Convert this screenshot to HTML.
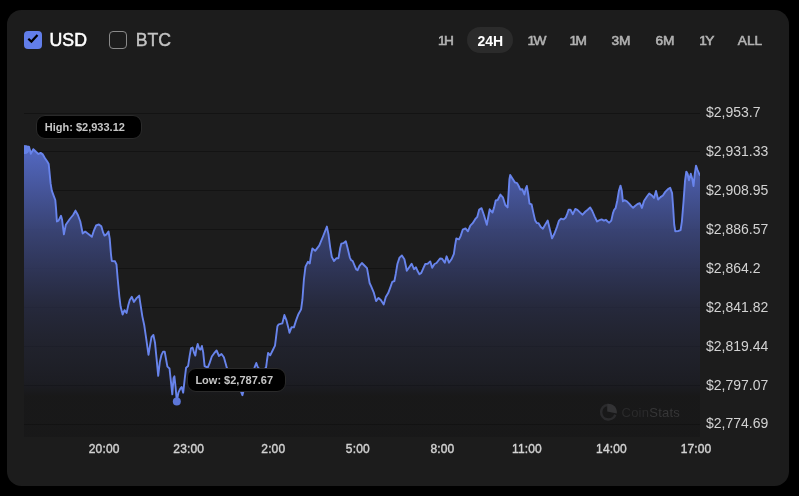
<!DOCTYPE html>
<html><head><meta charset="utf-8"><title>Chart</title>
<style>
html,body{margin:0;padding:0;background:#000;}
body{width:799px;height:496px;position:relative;overflow:hidden;font-family:"Liberation Sans",Arial,sans-serif;}
.card{position:absolute;left:7px;top:10px;width:782px;height:476px;background:#1c1c1c;border-radius:14.5px;}
svg.ch{position:absolute;left:0;top:0;}
.txt{position:absolute;left:0;top:0;width:799px;height:496px;will-change:transform;}
.cb{position:absolute;top:31px;width:18px;height:18px;border-radius:4px;box-sizing:border-box;}
.cb.on{left:24px;background:#627eea;}
.cb.off{left:109px;border:1.5px solid #8a8a8a;background:#1c1c1c;}
.lb{position:absolute;top:29px;font-size:17.7px;line-height:22px;white-space:nowrap;-webkit-text-stroke:0.55px currentColor;}
.pill{position:absolute;left:467px;top:27px;width:46px;height:26px;border-radius:13px;background:#2b2b2b;}
.rg{position:absolute;top:27.8px;width:46px;height:26px;line-height:26px;text-align:center;font-size:13.7px;color:#b2b2b2;-webkit-text-stroke:0.6px currentColor;white-space:nowrap;}
.one{letter-spacing:-1.5px;}
.rg.on{color:#fff;font-weight:bold;font-size:14px;-webkit-text-stroke:0;}
.yl{position:absolute;left:706px;font-size:14px;line-height:18px;color:#d2d2d2;white-space:nowrap;}
.xl{position:absolute;top:441px;width:60px;text-align:center;font-size:12px;line-height:16px;color:#d2d2d2;-webkit-text-stroke:0.4px currentColor;letter-spacing:0.15px;white-space:nowrap;}
.tip{position:absolute;background:#000;border:1px solid #2a2a2a;box-sizing:border-box;border-radius:9px;color:#c6c6c6;font-size:11px;font-weight:bold;text-align:left;padding-left:7.4px;height:24px;line-height:22px;white-space:nowrap;}
.wm{position:absolute;left:621.5px;top:404.7px;font-size:13px;line-height:16px;letter-spacing:0.25px;color:#2a2a2b;white-space:nowrap;}
.wm b{font-weight:normal;color:#363637;}
</style></head><body>
<div class="card"></div>
<svg class="ch" width="799" height="496" viewBox="0 0 799 496">
<defs>
<linearGradient id="g" gradientUnits="userSpaceOnUse" x1="0" y1="145" x2="0" y2="437">
<stop offset="0" stop-color="#627ef0" stop-opacity="0.8"/>
<stop offset="0.3" stop-color="#6078eb" stop-opacity="0.41"/>
<stop offset="0.55" stop-color="#5a6ee6" stop-opacity="0.16"/>
<stop offset="0.7" stop-color="#4a5cc8" stop-opacity="0.09"/>
<stop offset="0.815" stop-color="#1a2258" stop-opacity="0.11"/>
<stop offset="0.86" stop-color="#000004" stop-opacity="0.13"/>
<stop offset="1" stop-color="#000004" stop-opacity="0.13"/>
</linearGradient>
<clipPath id="ca"><path d="M24.0,146.5 L28.9,146.6 L29.9,150.0 L30.8,153.8 L33.3,149.2 L36.0,151.8 L38.4,154.0 L40.6,152.9 L42.8,154.4 L45.0,158.2 L47.4,161.8 L48.7,164.0 L49.5,172.0 L50.6,183.4 L51.8,190.6 L53.9,196.3 L55.3,200.0 L56.1,209.4 L56.9,221.5 L58.5,220.6 L61.0,215.8 L62.1,219.8 L63.9,234.4 L65.8,224.7 L69.8,219.0 L73.1,215.0 L75.5,210.6 L77.9,215.0 L80.3,221.5 L82.7,233.5 L85.2,231.6 L88.4,233.9 L91.9,236.8 L94.0,230.3 L96.1,225.5 L98.9,224.4 L101.3,226.3 L103.2,232.7 L104.5,235.6 L106.5,234.4 L108.5,231.5 L109.7,238.4 L111.0,254.5 L111.8,261.0 L115.0,261.3 L116.5,264.5 L117.7,279.0 L119.4,296.8 L120.6,306.5 L122.6,314.5 L124.5,310.2 L126.6,312.9 L128.2,305.6 L129.8,300.0 L131.8,296.8 L133.9,301.9 L136.8,297.9 L139.2,295.6 L140.3,303.2 L142.3,316.1 L144.2,325.0 L146.1,337.9 L148.5,354.8 L150.2,344.4 L151.5,337.1 L153.4,335.0 L155.0,342.7 L156.6,358.9 L158.2,375.8 L159.8,362.1 L161.5,354.8 L163.1,351.6 L164.7,351.6 L166.3,360.5 L167.4,366.6 L169.5,368.5 L171.1,383.1 L172.3,394.4 L173.5,378.2 L174.4,376.3 L175.5,386.3 L176.8,401.0 L178.4,392.7 L180.3,388.7 L181.6,387.1 L183.2,392.7 L184.8,378.2 L186.1,367.7 L188.1,366.1 L189.7,355.6 L191.0,348.4 L192.6,347.6 L194.2,353.2 L195.3,355.6 L196.5,348.4 L197.7,344.0 L199.4,349.2 L200.5,349.6 L201.9,346.0 L203.2,352.4 L204.6,366.1 L207.7,367.7 L209.4,363.7 L211.8,356.5 L214.2,353.2 L216.6,350.5 L219.0,356.0 L221.5,354.0 L223.9,357.3 L225.5,362.9 L226.8,367.7 L232.0,380.0 L238.0,384.0 L242.4,395.2 L246.0,382.0 L250.0,378.0 L254.5,367.7 L256.3,363.0 L257.7,367.0 L262.0,372.0 L266.1,367.4 L266.9,361.0 L268.1,352.9 L270.2,355.3 L272.6,350.5 L275.0,345.6 L276.1,336.8 L277.4,326.3 L278.7,324.4 L282.3,323.4 L284.4,315.0 L286.3,319.8 L288.4,327.9 L289.5,332.7 L291.6,327.1 L293.9,327.4 L296.0,320.6 L298.4,314.2 L301.1,309.4 L302.4,299.7 L303.9,279.5 L305.5,266.6 L307.9,261.8 L309.8,263.4 L311.1,254.5 L312.4,248.5 L315.2,250.8 L319.2,245.6 L323.2,236.0 L326.9,226.6 L328.5,234.4 L330.2,247.3 L331.8,256.9 L334.0,261.0 L336.5,258.2 L338.5,258.2 L340.2,248.0 L341.3,243.7 L343.4,243.2 L345.8,241.3 L347.4,247.3 L349.8,257.3 L351.1,260.2 L352.7,261.0 L354.7,265.8 L356.3,269.5 L357.6,270.2 L359.5,265.8 L361.9,263.0 L364.4,265.5 L367.0,268.2 L368.3,275.4 L369.6,283.0 L371.3,286.6 L373.7,292.3 L376.1,301.1 L378.5,297.9 L381.0,300.3 L383.7,304.4 L385.8,297.1 L388.2,293.1 L390.6,286.6 L392.3,281.8 L394.4,281.0 L395.8,273.7 L397.4,264.0 L399.5,257.6 L401.9,255.5 L404.4,259.2 L405.6,264.8 L406.8,270.8 L409.2,267.3 L411.6,263.7 L414.0,269.2 L416.0,267.3 L417.7,271.3 L419.4,274.2 L421.3,272.9 L423.7,267.3 L425.3,264.0 L427.7,263.7 L430.2,261.4 L432.2,267.8 L434.5,264.0 L436.5,263.0 L440.0,258.5 L442.1,258.7 L444.8,262.7 L446.6,256.3 L449.0,262.7 L451.8,258.7 L453.9,253.9 L455.0,245.8 L456.3,238.5 L459.0,239.4 L460.6,236.1 L462.7,229.7 L465.5,228.4 L467.9,231.3 L470.3,225.6 L472.7,223.2 L475.2,219.2 L477.3,216.8 L479.2,209.5 L481.6,208.2 L484.0,215.2 L486.8,224.8 L488.4,216.0 L489.7,209.3 L492.5,212.6 L494.1,207.4 L495.7,200.5 L497.7,200.0 L500.4,194.6 L502.9,197.3 L505.3,205.0 L507.6,207.4 L508.5,194.0 L509.4,179.5 L510.2,175.0 L512.6,178.7 L515.0,182.4 L517.1,183.1 L518.7,186.0 L520.3,189.5 L522.3,189.2 L524.4,194.5 L525.5,189.2 L526.8,186.0 L528.2,194.0 L529.5,203.7 L531.6,204.5 L533.5,213.4 L535.2,220.6 L536.8,223.1 L538.4,223.1 L540.8,227.1 L542.9,228.7 L545.6,223.9 L547.7,220.6 L549.7,228.7 L552.1,238.4 L554.5,233.5 L556.9,227.1 L559.0,220.6 L561.0,218.7 L563.4,219.4 L565.8,217.4 L567.4,213.4 L568.6,209.7 L570.5,209.7 L572.9,214.2 L575.3,209.0 L577.4,209.8 L580.2,212.6 L582.6,214.7 L585.5,211.5 L587.7,209.8 L590.2,207.4 L592.3,211.0 L594.7,216.6 L597.1,221.5 L599.5,220.2 L601.6,219.4 L603.9,220.6 L606.0,219.8 L607.6,221.5 L609.2,222.7 L611.3,220.6 L612.9,213.4 L614.0,210.2 L615.6,208.2 L617.3,200.5 L618.9,190.8 L620.5,185.6 L621.8,190.8 L622.9,201.3 L624.5,200.2 L626.9,201.3 L629.4,203.8 L631.3,206.1 L633.1,207.8 L635.3,205.8 L637.6,204.0 L639.8,203.2 L641.9,207.9 L644.0,201.1 L646.8,196.8 L649.2,193.5 L651.6,195.2 L654.0,197.9 L656.0,191.0 L658.1,199.5 L660.5,197.1 L662.9,195.5 L665.3,191.9 L667.7,189.4 L670.2,187.7 L672.1,193.1 L673.1,206.8 L674.2,224.5 L675.3,231.3 L678.2,231.0 L680.6,230.2 L681.9,221.3 L683.5,201.9 L685.0,181.0 L686.3,171.6 L687.6,173.7 L689.0,180.2 L690.8,173.7 L692.4,179.4 L693.5,186.1 L694.7,174.5 L696.0,165.6 L697.6,170.0 L699.5,174.5 L700.0,175.0 L700,437 L24,437 Z"/></clipPath>
<clipPath id="cc"><rect x="24" y="100" width="676" height="340"/></clipPath>
</defs>
<g fill="#131313"><rect x="24" y="113" width="676" height="1"/><rect x="24" y="151" width="676" height="1"/><rect x="24" y="190" width="676" height="1"/><rect x="24" y="229" width="676" height="1"/><rect x="24" y="268" width="676" height="1"/><rect x="24" y="307" width="676" height="1"/><rect x="24" y="346" width="676" height="1"/><rect x="24" y="385" width="676" height="1"/><rect x="24" y="424" width="676" height="1"/></g>
<path d="M24.0,146.5 L28.9,146.6 L29.9,150.0 L30.8,153.8 L33.3,149.2 L36.0,151.8 L38.4,154.0 L40.6,152.9 L42.8,154.4 L45.0,158.2 L47.4,161.8 L48.7,164.0 L49.5,172.0 L50.6,183.4 L51.8,190.6 L53.9,196.3 L55.3,200.0 L56.1,209.4 L56.9,221.5 L58.5,220.6 L61.0,215.8 L62.1,219.8 L63.9,234.4 L65.8,224.7 L69.8,219.0 L73.1,215.0 L75.5,210.6 L77.9,215.0 L80.3,221.5 L82.7,233.5 L85.2,231.6 L88.4,233.9 L91.9,236.8 L94.0,230.3 L96.1,225.5 L98.9,224.4 L101.3,226.3 L103.2,232.7 L104.5,235.6 L106.5,234.4 L108.5,231.5 L109.7,238.4 L111.0,254.5 L111.8,261.0 L115.0,261.3 L116.5,264.5 L117.7,279.0 L119.4,296.8 L120.6,306.5 L122.6,314.5 L124.5,310.2 L126.6,312.9 L128.2,305.6 L129.8,300.0 L131.8,296.8 L133.9,301.9 L136.8,297.9 L139.2,295.6 L140.3,303.2 L142.3,316.1 L144.2,325.0 L146.1,337.9 L148.5,354.8 L150.2,344.4 L151.5,337.1 L153.4,335.0 L155.0,342.7 L156.6,358.9 L158.2,375.8 L159.8,362.1 L161.5,354.8 L163.1,351.6 L164.7,351.6 L166.3,360.5 L167.4,366.6 L169.5,368.5 L171.1,383.1 L172.3,394.4 L173.5,378.2 L174.4,376.3 L175.5,386.3 L176.8,401.0 L178.4,392.7 L180.3,388.7 L181.6,387.1 L183.2,392.7 L184.8,378.2 L186.1,367.7 L188.1,366.1 L189.7,355.6 L191.0,348.4 L192.6,347.6 L194.2,353.2 L195.3,355.6 L196.5,348.4 L197.7,344.0 L199.4,349.2 L200.5,349.6 L201.9,346.0 L203.2,352.4 L204.6,366.1 L207.7,367.7 L209.4,363.7 L211.8,356.5 L214.2,353.2 L216.6,350.5 L219.0,356.0 L221.5,354.0 L223.9,357.3 L225.5,362.9 L226.8,367.7 L232.0,380.0 L238.0,384.0 L242.4,395.2 L246.0,382.0 L250.0,378.0 L254.5,367.7 L256.3,363.0 L257.7,367.0 L262.0,372.0 L266.1,367.4 L266.9,361.0 L268.1,352.9 L270.2,355.3 L272.6,350.5 L275.0,345.6 L276.1,336.8 L277.4,326.3 L278.7,324.4 L282.3,323.4 L284.4,315.0 L286.3,319.8 L288.4,327.9 L289.5,332.7 L291.6,327.1 L293.9,327.4 L296.0,320.6 L298.4,314.2 L301.1,309.4 L302.4,299.7 L303.9,279.5 L305.5,266.6 L307.9,261.8 L309.8,263.4 L311.1,254.5 L312.4,248.5 L315.2,250.8 L319.2,245.6 L323.2,236.0 L326.9,226.6 L328.5,234.4 L330.2,247.3 L331.8,256.9 L334.0,261.0 L336.5,258.2 L338.5,258.2 L340.2,248.0 L341.3,243.7 L343.4,243.2 L345.8,241.3 L347.4,247.3 L349.8,257.3 L351.1,260.2 L352.7,261.0 L354.7,265.8 L356.3,269.5 L357.6,270.2 L359.5,265.8 L361.9,263.0 L364.4,265.5 L367.0,268.2 L368.3,275.4 L369.6,283.0 L371.3,286.6 L373.7,292.3 L376.1,301.1 L378.5,297.9 L381.0,300.3 L383.7,304.4 L385.8,297.1 L388.2,293.1 L390.6,286.6 L392.3,281.8 L394.4,281.0 L395.8,273.7 L397.4,264.0 L399.5,257.6 L401.9,255.5 L404.4,259.2 L405.6,264.8 L406.8,270.8 L409.2,267.3 L411.6,263.7 L414.0,269.2 L416.0,267.3 L417.7,271.3 L419.4,274.2 L421.3,272.9 L423.7,267.3 L425.3,264.0 L427.7,263.7 L430.2,261.4 L432.2,267.8 L434.5,264.0 L436.5,263.0 L440.0,258.5 L442.1,258.7 L444.8,262.7 L446.6,256.3 L449.0,262.7 L451.8,258.7 L453.9,253.9 L455.0,245.8 L456.3,238.5 L459.0,239.4 L460.6,236.1 L462.7,229.7 L465.5,228.4 L467.9,231.3 L470.3,225.6 L472.7,223.2 L475.2,219.2 L477.3,216.8 L479.2,209.5 L481.6,208.2 L484.0,215.2 L486.8,224.8 L488.4,216.0 L489.7,209.3 L492.5,212.6 L494.1,207.4 L495.7,200.5 L497.7,200.0 L500.4,194.6 L502.9,197.3 L505.3,205.0 L507.6,207.4 L508.5,194.0 L509.4,179.5 L510.2,175.0 L512.6,178.7 L515.0,182.4 L517.1,183.1 L518.7,186.0 L520.3,189.5 L522.3,189.2 L524.4,194.5 L525.5,189.2 L526.8,186.0 L528.2,194.0 L529.5,203.7 L531.6,204.5 L533.5,213.4 L535.2,220.6 L536.8,223.1 L538.4,223.1 L540.8,227.1 L542.9,228.7 L545.6,223.9 L547.7,220.6 L549.7,228.7 L552.1,238.4 L554.5,233.5 L556.9,227.1 L559.0,220.6 L561.0,218.7 L563.4,219.4 L565.8,217.4 L567.4,213.4 L568.6,209.7 L570.5,209.7 L572.9,214.2 L575.3,209.0 L577.4,209.8 L580.2,212.6 L582.6,214.7 L585.5,211.5 L587.7,209.8 L590.2,207.4 L592.3,211.0 L594.7,216.6 L597.1,221.5 L599.5,220.2 L601.6,219.4 L603.9,220.6 L606.0,219.8 L607.6,221.5 L609.2,222.7 L611.3,220.6 L612.9,213.4 L614.0,210.2 L615.6,208.2 L617.3,200.5 L618.9,190.8 L620.5,185.6 L621.8,190.8 L622.9,201.3 L624.5,200.2 L626.9,201.3 L629.4,203.8 L631.3,206.1 L633.1,207.8 L635.3,205.8 L637.6,204.0 L639.8,203.2 L641.9,207.9 L644.0,201.1 L646.8,196.8 L649.2,193.5 L651.6,195.2 L654.0,197.9 L656.0,191.0 L658.1,199.5 L660.5,197.1 L662.9,195.5 L665.3,191.9 L667.7,189.4 L670.2,187.7 L672.1,193.1 L673.1,206.8 L674.2,224.5 L675.3,231.3 L678.2,231.0 L680.6,230.2 L681.9,221.3 L683.5,201.9 L685.0,181.0 L686.3,171.6 L687.6,173.7 L689.0,180.2 L690.8,173.7 L692.4,179.4 L693.5,186.1 L694.7,174.5 L696.0,165.6 L697.6,170.0 L699.5,174.5 L700.0,175.0 L700,437 L24,437 Z" fill="#1c1c1c"/>
<g fill="#131313" clip-path="url(#ca)"><rect x="24" y="229" width="676" height="1" opacity="0.15"/><rect x="24" y="268" width="676" height="1" opacity="0.2"/><rect x="24" y="307" width="676" height="1" opacity="0.3"/><rect x="24" y="346" width="676" height="1" opacity="0.45"/><rect x="24" y="385" width="676" height="1" opacity="0.55"/><rect x="24" y="424" width="676" height="1" opacity="0.7"/></g>
<path d="M24.0,146.5 L28.9,146.6 L29.9,150.0 L30.8,153.8 L33.3,149.2 L36.0,151.8 L38.4,154.0 L40.6,152.9 L42.8,154.4 L45.0,158.2 L47.4,161.8 L48.7,164.0 L49.5,172.0 L50.6,183.4 L51.8,190.6 L53.9,196.3 L55.3,200.0 L56.1,209.4 L56.9,221.5 L58.5,220.6 L61.0,215.8 L62.1,219.8 L63.9,234.4 L65.8,224.7 L69.8,219.0 L73.1,215.0 L75.5,210.6 L77.9,215.0 L80.3,221.5 L82.7,233.5 L85.2,231.6 L88.4,233.9 L91.9,236.8 L94.0,230.3 L96.1,225.5 L98.9,224.4 L101.3,226.3 L103.2,232.7 L104.5,235.6 L106.5,234.4 L108.5,231.5 L109.7,238.4 L111.0,254.5 L111.8,261.0 L115.0,261.3 L116.5,264.5 L117.7,279.0 L119.4,296.8 L120.6,306.5 L122.6,314.5 L124.5,310.2 L126.6,312.9 L128.2,305.6 L129.8,300.0 L131.8,296.8 L133.9,301.9 L136.8,297.9 L139.2,295.6 L140.3,303.2 L142.3,316.1 L144.2,325.0 L146.1,337.9 L148.5,354.8 L150.2,344.4 L151.5,337.1 L153.4,335.0 L155.0,342.7 L156.6,358.9 L158.2,375.8 L159.8,362.1 L161.5,354.8 L163.1,351.6 L164.7,351.6 L166.3,360.5 L167.4,366.6 L169.5,368.5 L171.1,383.1 L172.3,394.4 L173.5,378.2 L174.4,376.3 L175.5,386.3 L176.8,401.0 L178.4,392.7 L180.3,388.7 L181.6,387.1 L183.2,392.7 L184.8,378.2 L186.1,367.7 L188.1,366.1 L189.7,355.6 L191.0,348.4 L192.6,347.6 L194.2,353.2 L195.3,355.6 L196.5,348.4 L197.7,344.0 L199.4,349.2 L200.5,349.6 L201.9,346.0 L203.2,352.4 L204.6,366.1 L207.7,367.7 L209.4,363.7 L211.8,356.5 L214.2,353.2 L216.6,350.5 L219.0,356.0 L221.5,354.0 L223.9,357.3 L225.5,362.9 L226.8,367.7 L232.0,380.0 L238.0,384.0 L242.4,395.2 L246.0,382.0 L250.0,378.0 L254.5,367.7 L256.3,363.0 L257.7,367.0 L262.0,372.0 L266.1,367.4 L266.9,361.0 L268.1,352.9 L270.2,355.3 L272.6,350.5 L275.0,345.6 L276.1,336.8 L277.4,326.3 L278.7,324.4 L282.3,323.4 L284.4,315.0 L286.3,319.8 L288.4,327.9 L289.5,332.7 L291.6,327.1 L293.9,327.4 L296.0,320.6 L298.4,314.2 L301.1,309.4 L302.4,299.7 L303.9,279.5 L305.5,266.6 L307.9,261.8 L309.8,263.4 L311.1,254.5 L312.4,248.5 L315.2,250.8 L319.2,245.6 L323.2,236.0 L326.9,226.6 L328.5,234.4 L330.2,247.3 L331.8,256.9 L334.0,261.0 L336.5,258.2 L338.5,258.2 L340.2,248.0 L341.3,243.7 L343.4,243.2 L345.8,241.3 L347.4,247.3 L349.8,257.3 L351.1,260.2 L352.7,261.0 L354.7,265.8 L356.3,269.5 L357.6,270.2 L359.5,265.8 L361.9,263.0 L364.4,265.5 L367.0,268.2 L368.3,275.4 L369.6,283.0 L371.3,286.6 L373.7,292.3 L376.1,301.1 L378.5,297.9 L381.0,300.3 L383.7,304.4 L385.8,297.1 L388.2,293.1 L390.6,286.6 L392.3,281.8 L394.4,281.0 L395.8,273.7 L397.4,264.0 L399.5,257.6 L401.9,255.5 L404.4,259.2 L405.6,264.8 L406.8,270.8 L409.2,267.3 L411.6,263.7 L414.0,269.2 L416.0,267.3 L417.7,271.3 L419.4,274.2 L421.3,272.9 L423.7,267.3 L425.3,264.0 L427.7,263.7 L430.2,261.4 L432.2,267.8 L434.5,264.0 L436.5,263.0 L440.0,258.5 L442.1,258.7 L444.8,262.7 L446.6,256.3 L449.0,262.7 L451.8,258.7 L453.9,253.9 L455.0,245.8 L456.3,238.5 L459.0,239.4 L460.6,236.1 L462.7,229.7 L465.5,228.4 L467.9,231.3 L470.3,225.6 L472.7,223.2 L475.2,219.2 L477.3,216.8 L479.2,209.5 L481.6,208.2 L484.0,215.2 L486.8,224.8 L488.4,216.0 L489.7,209.3 L492.5,212.6 L494.1,207.4 L495.7,200.5 L497.7,200.0 L500.4,194.6 L502.9,197.3 L505.3,205.0 L507.6,207.4 L508.5,194.0 L509.4,179.5 L510.2,175.0 L512.6,178.7 L515.0,182.4 L517.1,183.1 L518.7,186.0 L520.3,189.5 L522.3,189.2 L524.4,194.5 L525.5,189.2 L526.8,186.0 L528.2,194.0 L529.5,203.7 L531.6,204.5 L533.5,213.4 L535.2,220.6 L536.8,223.1 L538.4,223.1 L540.8,227.1 L542.9,228.7 L545.6,223.9 L547.7,220.6 L549.7,228.7 L552.1,238.4 L554.5,233.5 L556.9,227.1 L559.0,220.6 L561.0,218.7 L563.4,219.4 L565.8,217.4 L567.4,213.4 L568.6,209.7 L570.5,209.7 L572.9,214.2 L575.3,209.0 L577.4,209.8 L580.2,212.6 L582.6,214.7 L585.5,211.5 L587.7,209.8 L590.2,207.4 L592.3,211.0 L594.7,216.6 L597.1,221.5 L599.5,220.2 L601.6,219.4 L603.9,220.6 L606.0,219.8 L607.6,221.5 L609.2,222.7 L611.3,220.6 L612.9,213.4 L614.0,210.2 L615.6,208.2 L617.3,200.5 L618.9,190.8 L620.5,185.6 L621.8,190.8 L622.9,201.3 L624.5,200.2 L626.9,201.3 L629.4,203.8 L631.3,206.1 L633.1,207.8 L635.3,205.8 L637.6,204.0 L639.8,203.2 L641.9,207.9 L644.0,201.1 L646.8,196.8 L649.2,193.5 L651.6,195.2 L654.0,197.9 L656.0,191.0 L658.1,199.5 L660.5,197.1 L662.9,195.5 L665.3,191.9 L667.7,189.4 L670.2,187.7 L672.1,193.1 L673.1,206.8 L674.2,224.5 L675.3,231.3 L678.2,231.0 L680.6,230.2 L681.9,221.3 L683.5,201.9 L685.0,181.0 L686.3,171.6 L687.6,173.7 L689.0,180.2 L690.8,173.7 L692.4,179.4 L693.5,186.1 L694.7,174.5 L696.0,165.6 L697.6,170.0 L699.5,174.5 L700.0,175.0 L700,437 L24,437 Z" fill="url(#g)"/>
<g clip-path="url(#cc)"><path d="M24.0,146.5 L28.9,146.6 L29.9,150.0 L30.8,153.8 L33.3,149.2 L36.0,151.8 L38.4,154.0 L40.6,152.9 L42.8,154.4 L45.0,158.2 L47.4,161.8 L48.7,164.0 L49.5,172.0 L50.6,183.4 L51.8,190.6 L53.9,196.3 L55.3,200.0 L56.1,209.4 L56.9,221.5 L58.5,220.6 L61.0,215.8 L62.1,219.8 L63.9,234.4 L65.8,224.7 L69.8,219.0 L73.1,215.0 L75.5,210.6 L77.9,215.0 L80.3,221.5 L82.7,233.5 L85.2,231.6 L88.4,233.9 L91.9,236.8 L94.0,230.3 L96.1,225.5 L98.9,224.4 L101.3,226.3 L103.2,232.7 L104.5,235.6 L106.5,234.4 L108.5,231.5 L109.7,238.4 L111.0,254.5 L111.8,261.0 L115.0,261.3 L116.5,264.5 L117.7,279.0 L119.4,296.8 L120.6,306.5 L122.6,314.5 L124.5,310.2 L126.6,312.9 L128.2,305.6 L129.8,300.0 L131.8,296.8 L133.9,301.9 L136.8,297.9 L139.2,295.6 L140.3,303.2 L142.3,316.1 L144.2,325.0 L146.1,337.9 L148.5,354.8 L150.2,344.4 L151.5,337.1 L153.4,335.0 L155.0,342.7 L156.6,358.9 L158.2,375.8 L159.8,362.1 L161.5,354.8 L163.1,351.6 L164.7,351.6 L166.3,360.5 L167.4,366.6 L169.5,368.5 L171.1,383.1 L172.3,394.4 L173.5,378.2 L174.4,376.3 L175.5,386.3 L176.8,401.0 L178.4,392.7 L180.3,388.7 L181.6,387.1 L183.2,392.7 L184.8,378.2 L186.1,367.7 L188.1,366.1 L189.7,355.6 L191.0,348.4 L192.6,347.6 L194.2,353.2 L195.3,355.6 L196.5,348.4 L197.7,344.0 L199.4,349.2 L200.5,349.6 L201.9,346.0 L203.2,352.4 L204.6,366.1 L207.7,367.7 L209.4,363.7 L211.8,356.5 L214.2,353.2 L216.6,350.5 L219.0,356.0 L221.5,354.0 L223.9,357.3 L225.5,362.9 L226.8,367.7 L232.0,380.0 L238.0,384.0 L242.4,395.2 L246.0,382.0 L250.0,378.0 L254.5,367.7 L256.3,363.0 L257.7,367.0 L262.0,372.0 L266.1,367.4 L266.9,361.0 L268.1,352.9 L270.2,355.3 L272.6,350.5 L275.0,345.6 L276.1,336.8 L277.4,326.3 L278.7,324.4 L282.3,323.4 L284.4,315.0 L286.3,319.8 L288.4,327.9 L289.5,332.7 L291.6,327.1 L293.9,327.4 L296.0,320.6 L298.4,314.2 L301.1,309.4 L302.4,299.7 L303.9,279.5 L305.5,266.6 L307.9,261.8 L309.8,263.4 L311.1,254.5 L312.4,248.5 L315.2,250.8 L319.2,245.6 L323.2,236.0 L326.9,226.6 L328.5,234.4 L330.2,247.3 L331.8,256.9 L334.0,261.0 L336.5,258.2 L338.5,258.2 L340.2,248.0 L341.3,243.7 L343.4,243.2 L345.8,241.3 L347.4,247.3 L349.8,257.3 L351.1,260.2 L352.7,261.0 L354.7,265.8 L356.3,269.5 L357.6,270.2 L359.5,265.8 L361.9,263.0 L364.4,265.5 L367.0,268.2 L368.3,275.4 L369.6,283.0 L371.3,286.6 L373.7,292.3 L376.1,301.1 L378.5,297.9 L381.0,300.3 L383.7,304.4 L385.8,297.1 L388.2,293.1 L390.6,286.6 L392.3,281.8 L394.4,281.0 L395.8,273.7 L397.4,264.0 L399.5,257.6 L401.9,255.5 L404.4,259.2 L405.6,264.8 L406.8,270.8 L409.2,267.3 L411.6,263.7 L414.0,269.2 L416.0,267.3 L417.7,271.3 L419.4,274.2 L421.3,272.9 L423.7,267.3 L425.3,264.0 L427.7,263.7 L430.2,261.4 L432.2,267.8 L434.5,264.0 L436.5,263.0 L440.0,258.5 L442.1,258.7 L444.8,262.7 L446.6,256.3 L449.0,262.7 L451.8,258.7 L453.9,253.9 L455.0,245.8 L456.3,238.5 L459.0,239.4 L460.6,236.1 L462.7,229.7 L465.5,228.4 L467.9,231.3 L470.3,225.6 L472.7,223.2 L475.2,219.2 L477.3,216.8 L479.2,209.5 L481.6,208.2 L484.0,215.2 L486.8,224.8 L488.4,216.0 L489.7,209.3 L492.5,212.6 L494.1,207.4 L495.7,200.5 L497.7,200.0 L500.4,194.6 L502.9,197.3 L505.3,205.0 L507.6,207.4 L508.5,194.0 L509.4,179.5 L510.2,175.0 L512.6,178.7 L515.0,182.4 L517.1,183.1 L518.7,186.0 L520.3,189.5 L522.3,189.2 L524.4,194.5 L525.5,189.2 L526.8,186.0 L528.2,194.0 L529.5,203.7 L531.6,204.5 L533.5,213.4 L535.2,220.6 L536.8,223.1 L538.4,223.1 L540.8,227.1 L542.9,228.7 L545.6,223.9 L547.7,220.6 L549.7,228.7 L552.1,238.4 L554.5,233.5 L556.9,227.1 L559.0,220.6 L561.0,218.7 L563.4,219.4 L565.8,217.4 L567.4,213.4 L568.6,209.7 L570.5,209.7 L572.9,214.2 L575.3,209.0 L577.4,209.8 L580.2,212.6 L582.6,214.7 L585.5,211.5 L587.7,209.8 L590.2,207.4 L592.3,211.0 L594.7,216.6 L597.1,221.5 L599.5,220.2 L601.6,219.4 L603.9,220.6 L606.0,219.8 L607.6,221.5 L609.2,222.7 L611.3,220.6 L612.9,213.4 L614.0,210.2 L615.6,208.2 L617.3,200.5 L618.9,190.8 L620.5,185.6 L621.8,190.8 L622.9,201.3 L624.5,200.2 L626.9,201.3 L629.4,203.8 L631.3,206.1 L633.1,207.8 L635.3,205.8 L637.6,204.0 L639.8,203.2 L641.9,207.9 L644.0,201.1 L646.8,196.8 L649.2,193.5 L651.6,195.2 L654.0,197.9 L656.0,191.0 L658.1,199.5 L660.5,197.1 L662.9,195.5 L665.3,191.9 L667.7,189.4 L670.2,187.7 L672.1,193.1 L673.1,206.8 L674.2,224.5 L675.3,231.3 L678.2,231.0 L680.6,230.2 L681.9,221.3 L683.5,201.9 L685.0,181.0 L686.3,171.6 L687.6,173.7 L689.0,180.2 L690.8,173.7 L692.4,179.4 L693.5,186.1 L694.7,174.5 L696.0,165.6 L697.6,170.0 L699.5,174.5 L700.0,175.0" fill="none" stroke="#6884ec" stroke-width="1.9" stroke-linejoin="round" stroke-linecap="round"/>
<circle cx="25" cy="149.6" r="4.4" fill="#6582e8"/></g>
<circle cx="176.8" cy="401.5" r="4" fill="#5c76d8"/>
<path d="M607.6,404.9 A7.3,7.3 0 1 0 615.3,414.7" fill="none" stroke="#2b2b2d" stroke-width="2.5"/>
<path d="M607.2,411.6 L607.2,403.8 A8.5,8.5 0 0 1 616.8,413.6 Z" fill="#333335"/>
</svg>
<div class="txt"><div class="cb on"><svg width="18" height="18" viewBox="0 0 18 18"><path d="M4.3,7.8 L7.4,10.6 L13.5,4.1" fill="none" stroke="#000" stroke-width="2.2"/></svg></div>
<div class="lb" style="left:49.6px;color:#fff;">USD</div>
<div class="cb off"></div>
<div class="lb" style="left:135.7px;color:#c4c4c4;-webkit-text-stroke-width:0.4px;">BTC</div>
<div class="pill"></div>
<div class="rg" style="left:423.0px"><span class="one">1</span>H</div><div class="rg on" style="left:467.3px">24H</div><div class="rg" style="left:514.0px"><span class="one">1</span>W</div><div class="rg" style="left:555.2px"><span class="one">1</span>M</div><div class="rg" style="left:598.0px">3M</div><div class="rg" style="left:642.0px">6M</div><div class="rg" style="left:683.8px"><span class="one">1</span>Y</div><div class="rg" style="left:727.0px">ALL</div>
<div class="yl" style="top:103px">$2,953.7</div><div class="yl" style="top:142px">$2,931.33</div><div class="yl" style="top:181px">$2,908.95</div><div class="yl" style="top:220px">$2,886.57</div><div class="yl" style="top:259px">$2,864.2</div><div class="yl" style="top:298px">$2,841.82</div><div class="yl" style="top:337px">$2,819.44</div><div class="yl" style="top:376px">$2,797.07</div><div class="yl" style="top:414px">$2,774.69</div>
<div class="xl" style="left:74.20px">20:00</div><div class="xl" style="left:158.75px">23:00</div><div class="xl" style="left:243.30px">2:00</div><div class="xl" style="left:327.85px">5:00</div><div class="xl" style="left:412.40px">8:00</div><div class="xl" style="left:496.95px">11:00</div><div class="xl" style="left:581.50px">14:00</div><div class="xl" style="left:666.05px">17:00</div>
<div class="tip" style="left:36.4px;top:114.7px;width:105.8px;">High: $2,933.12</div>
<div class="tip" style="left:187px;top:367.9px;width:99.4px;">Low: $2,787.67</div>
<div class="wm">Coin<b>Stats</b></div></div>
</body></html>
